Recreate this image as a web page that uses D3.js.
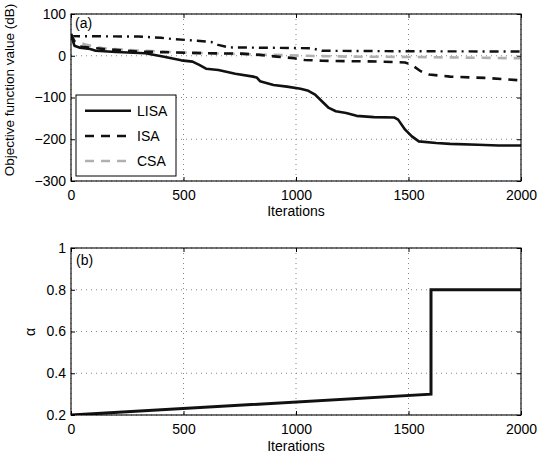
<!DOCTYPE html>
<html><head><meta charset="utf-8">
<script src="https://cdn.jsdelivr.net/npm/d3@7"></script>
<style>body{margin:0;background:#fff} text{font-family:"Liberation Sans",Arial,Helvetica,sans-serif;fill:#000}</style>
</head><body><svg id="c" width="542" height="457"></svg>
<script>
// ---- data ----
const xTicks = [0, 500, 1000, 1500, 2000];
const yTicksA = [100, 0, -100, -200, -300];
const yTicksB = [0.2, 0.4, 0.6, 0.8, 1];
const yTickLabelsB = ["0.2", "0.4", "0.6", "0.8", "1"];

const lisa = [[0,52],[15,24],[40,19],[85,16],[110,12],[200,9],[330,6],[408,-2],[490,-11],[540,-14],[570,-22],[600,-31],[655,-34],[730,-43],[810,-50],[825,-52],[840,-61],[900,-70],[960,-74],[1020,-79],[1055,-84],[1085,-93],[1115,-109],[1146,-125],[1177,-133],[1223,-137],[1269,-144],[1346,-147],[1438,-148],[1454,-153],[1485,-177],[1515,-193],[1546,-205],[1623,-209],[1685,-211],[1808,-213],[1900,-215],[2000,-215]];
const isa = [[0,52],[15,34],[40,22],[146,16],[300,10],[454,8],[608,6],[760,5],[838,2],[915,-2],[992,-6],[1038,-10],[1115,-12],[1377,-14],[1485,-16],[1515,-22],[1554,-37],[1592,-45],[1685,-50],[1838,-53],[2000,-59]];
const csa = [[0,52],[15,36],[40,31],[69,26],[143,18],[247,14],[395,10],[543,7],[765,4],[900,2],[1038,0],[1223,-2],[1531,-3],[2000,-6]];
const ddash = [[0,47],[300,46],[400,43],[454,40],[561,36],[623,33],[654,26],[700,20],[900,19],[1069,18],[1115,12],[1400,11],[2000,10]];
const alpha = [[0,0.2],[1600,0.3],[1600,0.8],[2000,0.8]];

const legendNames = ["LISA", "ISA", "CSA"];

// ---- drawing ----
const svg = d3.select("#c");
const L = 71, R = 521;
const x = d3.scaleLinear().domain([0, 2000]).range([L, R]);
const yA = d3.scaleLinear().domain([-300, 100]).range([181, 14]);
const yB = d3.scaleLinear().domain([0.2, 1]).range([415, 248]);

const defs = svg.append("defs");
function panel(y, yTicks, yFmt, id) {
  const [b, t] = y.range();
  defs.append("clipPath").attr("id", id).append("rect")
    .attr("x", L).attr("y", t).attr("width", R - L).attr("height", b - t);
  const g = svg.append("g");
  // grid
  g.selectAll(".gx").data(xTicks).join("line")
    .attr("x1", d => x(d)).attr("x2", d => x(d)).attr("y1", t).attr("y2", b)
    .attr("stroke", "#777").attr("stroke-width", 0.9).attr("stroke-dasharray", "1,4");
  g.selectAll(".gy").data(yTicks).join("line")
    .attr("y1", d => y(d)).attr("y2", d => y(d)).attr("x1", L).attr("x2", R)
    .attr("stroke", "#777").attr("stroke-width", 0.9).attr("stroke-dasharray", "1,4");
  // axes
  const ax = g.append("g").attr("transform", `translate(0,${b})`)
    .call(d3.axisBottom(x).tickValues(xTicks).tickSize(-4).tickPadding(9).tickFormat(d3.format("d")));
  const axT = g.append("g").attr("transform", `translate(0,${t})`)
    .call(d3.axisTop(x).tickValues(xTicks).tickSize(-4).tickFormat(""));
  const ay = g.append("g").attr("transform", `translate(${L},0)`)
    .call(d3.axisLeft(y).tickValues(yTicks).tickSize(-4).tickPadding(5).tickFormat(yFmt));
  const ayR = g.append("g").attr("transform", `translate(${R},0)`)
    .call(d3.axisRight(y).tickValues(yTicks).tickSize(-4).tickFormat(""));
  [ax, axT, ay, ayR].forEach(a => {
    a.select(".domain").remove();
    a.selectAll("line").attr("stroke", "#000");
    a.selectAll("text").attr("font-size", 14).attr("font-family", '"Liberation Sans",Arial,sans-serif').attr("fill", "#000");
  });
  return {g, t, b};
}

const pA = panel(yA, yTicksA, d => d3.format("d")(d).replace("-", "\u2212"), "clipA");
const pB = panel(yB, yTicksB, (d, i) => yTickLabelsB[i], "clipB");

const lineA = d3.line().x(d => x(d[0])).y(d => yA(d[1]));
const lineB = d3.line().x(d => x(d[0])).y(d => yB(d[1]));

const gA = svg.append("g").attr("clip-path", "url(#clipA)");
gA.append("path").datum(ddash).attr("d", lineA).attr("fill", "none").attr("stroke", "#111")
  .attr("stroke-width", 2.4).attr("stroke-dasharray", "9,5,2,5");
gA.append("path").datum(csa).attr("d", lineA).attr("fill", "none").attr("stroke", "#b0b0b0")
  .attr("stroke-width", 2.6).attr("stroke-dasharray", "9,7");
gA.append("path").datum(isa).attr("d", lineA).attr("fill", "none").attr("stroke", "#111")
  .attr("stroke-width", 2.6).attr("stroke-dasharray", "9,7");
gA.append("path").datum(lisa).attr("d", lineA).attr("fill", "none").attr("stroke", "#111")
  .attr("stroke-width", 2.6).attr("stroke-linejoin", "round");

const gB = svg.append("g").attr("clip-path", "url(#clipB)");
gB.append("path").datum(alpha).attr("d", lineB).attr("fill", "none").attr("stroke", "#111")
  .attr("stroke-width", 3);

// frames
[[yA], [yB]].forEach(([y]) => {
  const [b, t] = y.range();
  svg.append("rect").attr("x", L).attr("y", t).attr("width", R - L).attr("height", b - t)
    .attr("fill", "none").attr("stroke", "#000").attr("stroke-width", 1.1);
});

// legend
const lg = svg.append("g");
lg.append("rect").attr("x", 76).attr("y", 95).attr("width", 100).attr("height", 81)
  .attr("fill", "#fff").attr("stroke", "#000").attr("stroke-width", 1);
const lgStyles = [{c: "#111", da: null}, {c: "#111", da: "9,7"}, {c: "#b0b0b0", da: "9,7"}];
const lgY = [110.7, 136, 161];
legendNames.forEach((n, i) => {
  lg.append("line").attr("x1", 85).attr("x2", 131).attr("y1", lgY[i]).attr("y2", lgY[i])
    .attr("stroke", lgStyles[i].c).attr("stroke-width", 2.6)
    .attr("stroke-dasharray", lgStyles[i].da);
  lg.append("text").attr("x", 137).attr("y", lgY[i] + 5).attr("font-size", 14).text(n);
});

// labels
svg.append("text").attr("x", 75).attr("y", 28).attr("font-size", 14).text("(a)");
svg.append("text").attr("x", 76).attr("y", 265).attr("font-size", 14).text("(b)");
svg.append("text").attr("x", (L + R) / 2).attr("y", 216).attr("text-anchor", "middle").attr("font-size", 14).text("Iterations");
svg.append("text").attr("x", (L + R) / 2).attr("y", 451).attr("text-anchor", "middle").attr("font-size", 14).text("Iterations");
svg.append("text").attr("transform", "translate(14,90) rotate(-90)").attr("text-anchor", "middle")
  .attr("font-size", 13.5).text("Objective function value (dB)");
svg.append("text").attr("transform", "translate(35,332) rotate(-90)").attr("text-anchor", "middle")
  .attr("font-size", 14).text("α");
</script></body></html>
